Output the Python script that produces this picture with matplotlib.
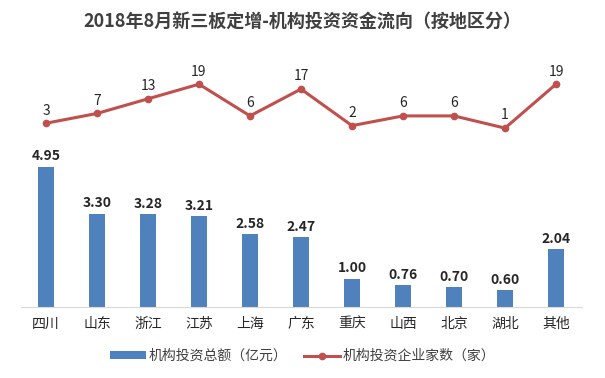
import matplotlib
matplotlib.use("Agg")
import matplotlib.pyplot as plt
import numpy as np

plt.rcParams['font.family'] = ['Noto Sans CJK SC', 'DejaVu Sans']

regions = ['四川', '山东', '浙江', '江苏', '上海', '广东', '重庆', '山西', '北京', '湖北', '其他']
amount = [4.95, 3.30, 3.28, 3.21, 2.58, 2.47, 1.00, 0.76, 0.70, 0.60, 2.04]
companies = [3, 7, 13, 19, 6, 17, 2, 6, 6, 1, 19]

bar_color = '#4F81BD'
line_color = '#C0504D'

fig = plt.figure(figsize=(6.05, 3.78), dpi=100)
ax = fig.add_axes([20.5 / 605, 1 - 307 / 378, 561 / 605, 267 / 378])
x = np.arange(len(regions))

ax.bar(x, amount, width=0.3, color=bar_color, label='机构投资总额（亿元）', zorder=2)
for xi, v in zip(x, amount):
    ax.text(xi, v + 0.12, f'{v:.2f}', ha='center', va='bottom', fontsize=10,
            fontweight='bold', color='#262626')
ax.set_ylim(0, 9.43)
ax.set_xlim(-0.5, len(regions) - 0.5)
ax.set_xticks(x)
ax.set_xticklabels(regions, fontsize=10, color='#262626')
ax.tick_params(axis='x', length=0, pad=7)
ax.set_yticks([])
for s in ['top', 'left', 'right']:
    ax.spines[s].set_visible(False)
ax.spines['bottom'].set_color('#D9D9D9')

ax2 = ax.twinx()
ax2.plot(x, companies, color=line_color, lw=2.2, marker='o', ms=4.5,
         label='机构投资企业家数（家）', zorder=3)
for xi, v in zip(x, companies):
    ax2.text(xi, v + 2.3, str(v), ha='center', va='bottom', fontsize=10, color='#262626')
ax2.set_ylim(-72.3, 37.1)
ax2.set_yticks([])
for s in ['top', 'left', 'right', 'bottom']:
    ax2.spines[s].set_visible(False)

fig.text(0.5, 1 - 22 / 378, '2018年8月新三板定增-机构投资资金流向（按地区分）',
         ha='center', va='center', fontsize=13, fontweight='bold', color='#404040')

h1, l1 = ax.get_legend_handles_labels()
h2, l2 = ax2.get_legend_handles_labels()
fig.legend(h1 + h2, l1 + l2, loc='center', bbox_to_anchor=(0.5, 1 - 356 / 378),
           ncol=2, frameon=False, fontsize=10, handlelength=2.6, handleheight=0.5,
           columnspacing=1.2, handletextpad=0.2, labelcolor='#404040')

fig.savefig('out.png', dpi=100, facecolor='white')
